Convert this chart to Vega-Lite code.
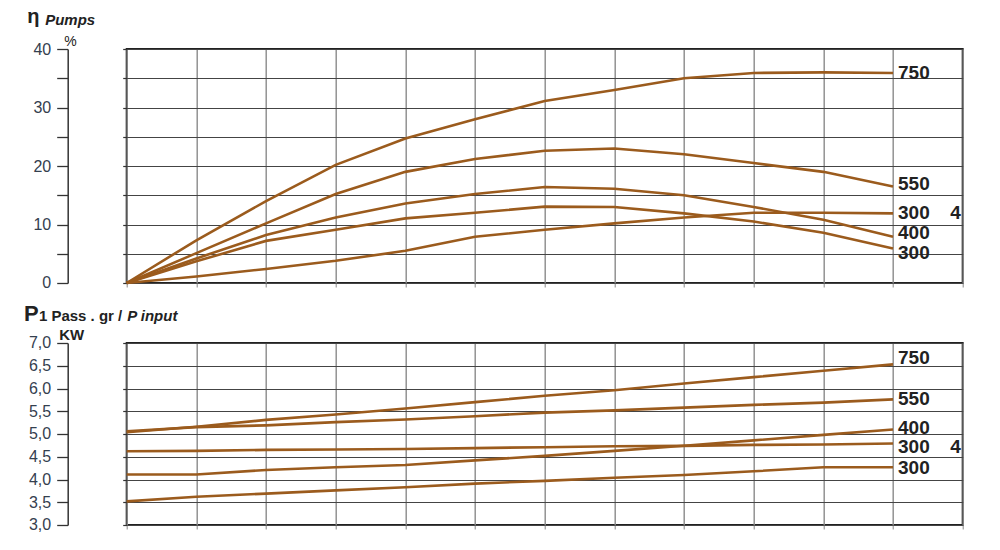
{
  "$schema": "https://vega.github.io/schema/vega-lite/v6.json",
  "background": "white",
  "padding": {"left": 21.7, "top": 5, "right": 10, "bottom": 5},
  "bounds": "flush",
  "spacing": 60,
  "config": {
    "view": {"stroke": "#222222", "strokeWidth": 2},
    "font": "Liberation Sans"
  },
  "datasets": {
    "eta": [
      {"series": "750", "x": 0, "v": 0}, {"series": "750", "x": 1, "v": 7.3}, {"series": "750", "x": 2, "v": 14.0}, {"series": "750", "x": 3, "v": 20.2}, {"series": "750", "x": 4, "v": 24.7}, {"series": "750", "x": 5, "v": 28.0}, {"series": "750", "x": 6, "v": 31.1}, {"series": "750", "x": 7, "v": 33.0}, {"series": "750", "x": 8, "v": 35.0}, {"series": "750", "x": 9, "v": 35.9}, {"series": "750", "x": 10, "v": 36.0}, {"series": "750", "x": 11, "v": 35.9},
      {"series": "550", "x": 0, "v": 0}, {"series": "550", "x": 1, "v": 5.1}, {"series": "550", "x": 2, "v": 10.2}, {"series": "550", "x": 3, "v": 15.2}, {"series": "550", "x": 4, "v": 19.0}, {"series": "550", "x": 5, "v": 21.2}, {"series": "550", "x": 6, "v": 22.6}, {"series": "550", "x": 7, "v": 23.0}, {"series": "550", "x": 8, "v": 22.0}, {"series": "550", "x": 9, "v": 20.5}, {"series": "550", "x": 10, "v": 19.0}, {"series": "550", "x": 11, "v": 16.5},
      {"series": "400", "x": 0, "v": 0}, {"series": "400", "x": 1, "v": 4.2}, {"series": "400", "x": 2, "v": 8.2}, {"series": "400", "x": 3, "v": 11.2}, {"series": "400", "x": 4, "v": 13.6}, {"series": "400", "x": 5, "v": 15.2}, {"series": "400", "x": 6, "v": 16.4}, {"series": "400", "x": 7, "v": 16.1}, {"series": "400", "x": 8, "v": 15.0}, {"series": "400", "x": 9, "v": 13.0}, {"series": "400", "x": 10, "v": 10.8}, {"series": "400", "x": 11, "v": 7.9},
      {"series": "300", "x": 0, "v": 0}, {"series": "300", "x": 1, "v": 3.7}, {"series": "300", "x": 2, "v": 7.2}, {"series": "300", "x": 3, "v": 9.1}, {"series": "300", "x": 4, "v": 11.05}, {"series": "300", "x": 5, "v": 12.0}, {"series": "300", "x": 6, "v": 13.05}, {"series": "300", "x": 7, "v": 13.0}, {"series": "300", "x": 8, "v": 11.9}, {"series": "300", "x": 9, "v": 10.5}, {"series": "300", "x": 10, "v": 8.6}, {"series": "300", "x": 11, "v": 5.9},
      {"series": "300_4", "x": 0, "v": 0}, {"series": "300_4", "x": 1, "v": 1.1}, {"series": "300_4", "x": 2, "v": 2.4}, {"series": "300_4", "x": 3, "v": 3.8}, {"series": "300_4", "x": 4, "v": 5.5}, {"series": "300_4", "x": 5, "v": 7.9}, {"series": "300_4", "x": 6, "v": 9.1}, {"series": "300_4", "x": 7, "v": 10.2}, {"series": "300_4", "x": 8, "v": 11.2}, {"series": "300_4", "x": 9, "v": 12.0}, {"series": "300_4", "x": 10, "v": 12.0}, {"series": "300_4", "x": 11, "v": 11.9}
    ],
    "etaLabels": [
      {"x": 11, "v": 35.98, "label": "750"},
      {"x": 11, "v": 16.9, "label": "550"},
      {"x": 11, "v": 11.97, "label": "300"},
      {"x": 11, "v": 8.63, "label": "400"},
      {"x": 11, "v": 5.13, "label": "300"}
    ],
    "etaPole": [
      {"x": 12, "v": 11.97, "label": "4"}
    ],
    "p1": [
      {"series": "750", "x": 0, "v": 5.04}, {"series": "750", "x": 1, "v": 5.16}, {"series": "750", "x": 2, "v": 5.31}, {"series": "750", "x": 3, "v": 5.43}, {"series": "750", "x": 4, "v": 5.56}, {"series": "750", "x": 5, "v": 5.70}, {"series": "750", "x": 6, "v": 5.84}, {"series": "750", "x": 7, "v": 5.96}, {"series": "750", "x": 8, "v": 6.11}, {"series": "750", "x": 9, "v": 6.25}, {"series": "750", "x": 10, "v": 6.39}, {"series": "750", "x": 11, "v": 6.53},
      {"series": "550", "x": 0, "v": 5.06}, {"series": "550", "x": 1, "v": 5.15}, {"series": "550", "x": 2, "v": 5.19}, {"series": "550", "x": 3, "v": 5.26}, {"series": "550", "x": 4, "v": 5.32}, {"series": "550", "x": 5, "v": 5.39}, {"series": "550", "x": 6, "v": 5.47}, {"series": "550", "x": 7, "v": 5.52}, {"series": "550", "x": 8, "v": 5.58}, {"series": "550", "x": 9, "v": 5.64}, {"series": "550", "x": 10, "v": 5.69}, {"series": "550", "x": 11, "v": 5.76},
      {"series": "300_4", "x": 0, "v": 4.62}, {"series": "300_4", "x": 1, "v": 4.63}, {"series": "300_4", "x": 2, "v": 4.65}, {"series": "300_4", "x": 3, "v": 4.66}, {"series": "300_4", "x": 4, "v": 4.67}, {"series": "300_4", "x": 5, "v": 4.69}, {"series": "300_4", "x": 6, "v": 4.71}, {"series": "300_4", "x": 7, "v": 4.73}, {"series": "300_4", "x": 8, "v": 4.74}, {"series": "300_4", "x": 9, "v": 4.76}, {"series": "300_4", "x": 10, "v": 4.77}, {"series": "300_4", "x": 11, "v": 4.79},
      {"series": "400", "x": 0, "v": 4.11}, {"series": "400", "x": 1, "v": 4.11}, {"series": "400", "x": 2, "v": 4.21}, {"series": "400", "x": 3, "v": 4.27}, {"series": "400", "x": 4, "v": 4.32}, {"series": "400", "x": 5, "v": 4.42}, {"series": "400", "x": 6, "v": 4.52}, {"series": "400", "x": 7, "v": 4.63}, {"series": "400", "x": 8, "v": 4.74}, {"series": "400", "x": 9, "v": 4.86}, {"series": "400", "x": 10, "v": 4.98}, {"series": "400", "x": 11, "v": 5.10},
      {"series": "300", "x": 0, "v": 3.52}, {"series": "300", "x": 1, "v": 3.62}, {"series": "300", "x": 2, "v": 3.69}, {"series": "300", "x": 3, "v": 3.76}, {"series": "300", "x": 4, "v": 3.83}, {"series": "300", "x": 5, "v": 3.91}, {"series": "300", "x": 6, "v": 3.97}, {"series": "300", "x": 7, "v": 4.04}, {"series": "300", "x": 8, "v": 4.10}, {"series": "300", "x": 9, "v": 4.18}, {"series": "300", "x": 10, "v": 4.27}, {"series": "300", "x": 11, "v": 4.27}
    ],
    "p1Labels": [
      {"x": 11, "v": 6.66, "label": "750"},
      {"x": 11, "v": 5.77, "label": "550"},
      {"x": 11, "v": 5.14, "label": "400"},
      {"x": 11, "v": 4.72, "label": "300"},
      {"x": 11, "v": 4.25, "label": "300"}
    ],
    "p1Pole": [
      {"x": 12, "v": 4.72, "label": "4"}
    ]
  },
  "vconcat": [
    {
      "width": 836,
      "height": 234,
      "resolve": {"axis": {"x": "independent", "y": "independent"}},
      "layer": [
        {
          "data": {"name": "eta"},
          "mark": {"type": "line", "color": "#9b5b1d", "strokeWidth": 2.6},
          "encoding": {
            "x": {
              "field": "x", "type": "quantitative",
              "scale": {"domain": [0, 12], "nice": false, "zero": false},
              "axis": {
                "orient": "bottom", "values": [0,1,2,3,4,5,6,7,8,9,10,11,12],
                "labels": false, "domain": false, "ticks": true, "tickSize": 4, "tickColor": "#888888",
                "grid": true, "gridColor": "#8a8a8a", "gridWidth": 1.4, "gridOpacity": 1,
                "title": "Pumps", "titleX": -82, "titleY": -259, "titleAlign": "left", "titleBaseline": "alphabetic",
                "titleFont": "Liberation Sans", "titleFontSize": 15, "titleFontWeight": "bold", "titleFontStyle": "italic", "titleColor": "#222222"
              }
            },
            "y": {
              "field": "v", "type": "quantitative",
              "scale": {"domain": [0, 40], "nice": false},
              "axis": {
                "orient": "left", "offset": 59, "values": [0,5,10,15,20,25,30,35,40],
                "labelExpr": "datum.value % 10 === 0 ? datum.label : ''",
                "tickSize": 11, "tickColor": "#333333", "tickWidth": 1.3,
                "domain": true, "domainColor": "#333333", "domainWidth": 1.5,
                "labelPadding": 6, "labelFont": "Liberation Sans", "labelFontSize": 16, "labelColor": "#34404f",
                "grid": true, "gridColor": "#444444", "gridWidth": 1.2, "gridOpacity": 1,
                "title": "%", "titleX": -4, "titleY": -4, "titleAngle": 0, "titleAlign": "left", "titleBaseline": "alphabetic",
                "titleFont": "Liberation Sans", "titleFontSize": 14, "titleFontWeight": "normal", "titleColor": "#222222"
              }
            },
            "detail": {"field": "series"}
          }
        },
        {
          "data": {"name": "etaLabels"},
          "mark": {"type": "text", "align": "left", "baseline": "middle", "dx": 5, "font": "Liberation Sans", "fontSize": 19, "fontWeight": "bold", "color": "#222222"},
          "encoding": {
            "x": {"field": "x", "type": "quantitative", "axis": null},
            "y": {
              "field": "v", "type": "quantitative",
              "axis": {
                "orient": "left", "values": [0,5,10,15,20,25,30,35,40], "labels": false, "domain": false, "grid": false,
                "ticks": true, "tickSize": 4, "tickColor": "#333333", "tickWidth": 1.2, "title": null
              }
            },
            "text": {"field": "label"}
          }
        },
        {
          "data": {"name": "etaPole"},
          "mark": {"type": "text", "align": "right", "baseline": "middle", "dx": -2, "font": "Liberation Sans", "fontSize": 19, "fontWeight": "bold", "color": "#222222"},
          "encoding": {
            "x": {
              "field": "x", "type": "quantitative",
              "axis": {
                "orient": "top", "labels": false, "ticks": false, "domain": false, "grid": false,
                "title": "η", "titleX": -100, "titleY": -27, "titleAlign": "left", "titleBaseline": "alphabetic",
                "titleFont": "Liberation Sans", "titleFontSize": 20, "titleFontWeight": "bold", "titleColor": "#222222"
              }
            },
            "y": {"field": "v", "type": "quantitative", "axis": null},
            "text": {"field": "label"}
          }
        }
      ]
    },
    {
      "width": 836,
      "height": 182,
      "resolve": {"axis": {"x": "independent", "y": "independent"}},
      "layer": [
        {
          "data": {"name": "p1"},
          "mark": {"type": "line", "color": "#9b5b1d", "strokeWidth": 2.6},
          "encoding": {
            "x": {
              "field": "x", "type": "quantitative",
              "scale": {"domain": [0, 12], "nice": false, "zero": false},
              "axis": {
                "orient": "bottom", "values": [0,1,2,3,4,5,6,7,8,9,10,11,12],
                "labels": false, "domain": false, "ticks": true, "tickSize": 4, "tickColor": "#888888",
                "grid": true, "gridColor": "#8a8a8a", "gridWidth": 1.4, "gridOpacity": 1,
                "title": "1 Pass . gr /", "titleX": -88.3, "titleY": -204.6, "titleAlign": "left", "titleBaseline": "alphabetic",
                "titleFont": "Liberation Sans", "titleFontSize": 15, "titleFontWeight": "bold", "titleColor": "#222222"
              }
            },
            "y": {
              "field": "v", "type": "quantitative",
              "scale": {"domain": [3, 7], "nice": false, "zero": false},
              "axis": {
                "orient": "left", "offset": 59, "values": [3,3.5,4,4.5,5,5.5,6,6.5,7],
                "format": ".1f", "labelExpr": "replace(datum.label, '.', ',')",
                "tickSize": 11, "tickColor": "#333333", "tickWidth": 1.3,
                "domain": true, "domainColor": "#333333", "domainWidth": 1.5,
                "labelPadding": 6, "labelFont": "Liberation Sans", "labelFontSize": 16, "labelColor": "#34404f",
                "grid": true, "gridColor": "#444444", "gridWidth": 1.2, "gridOpacity": 1,
                "title": "KW", "titleX": -9, "titleY": -3, "titleAngle": 0, "titleAlign": "left", "titleBaseline": "alphabetic",
                "titleFont": "Liberation Sans", "titleFontSize": 15, "titleFontWeight": "bold", "titleColor": "#222222"
              }
            },
            "detail": {"field": "series"}
          }
        },
        {
          "data": {"name": "p1Labels"},
          "mark": {"type": "text", "align": "left", "baseline": "middle", "dx": 5, "font": "Liberation Sans", "fontSize": 19, "fontWeight": "bold", "color": "#222222"},
          "encoding": {
            "x": {"field": "x", "type": "quantitative", "axis": null},
            "y": {
              "field": "v", "type": "quantitative",
              "axis": {
                "orient": "left", "values": [3,3.5,4,4.5,5,5.5,6,6.5,7], "labels": false, "domain": false, "grid": false,
                "ticks": true, "tickSize": 4, "tickColor": "#333333", "tickWidth": 1.2, "title": null
              }
            },
            "text": {"field": "label"}
          }
        },
        {
          "data": {"name": "p1Pole"},
          "mark": {"type": "text", "align": "right", "baseline": "middle", "dx": -2, "font": "Liberation Sans", "fontSize": 19, "fontWeight": "bold", "color": "#222222"},
          "encoding": {
            "x": {
              "field": "x", "type": "quantitative",
              "axis": {
                "orient": "top", "labels": false, "ticks": false, "domain": false, "grid": false,
                "title": "P input", "titleX": 0, "titleY": -22.3, "titleAlign": "left", "titleBaseline": "alphabetic",
                "titleFont": "Liberation Sans", "titleFontSize": 15, "titleFontWeight": "bold", "titleFontStyle": "italic", "titleColor": "#222222"
              }
            },
            "y": {
              "field": "v", "type": "quantitative",
              "axis": {
                "orient": "right", "labels": false, "ticks": false, "domain": false, "grid": false,
                "title": "P", "titleX": -939.3, "titleY": -22.3, "titleAngle": 0, "titleAlign": "left", "titleBaseline": "alphabetic",
                "titleFont": "Liberation Sans", "titleFontSize": 22, "titleFontWeight": "bold", "titleColor": "#222222"
              }
            },
            "text": {"field": "label"}
          }
        }
      ]
    }
  ]
}
